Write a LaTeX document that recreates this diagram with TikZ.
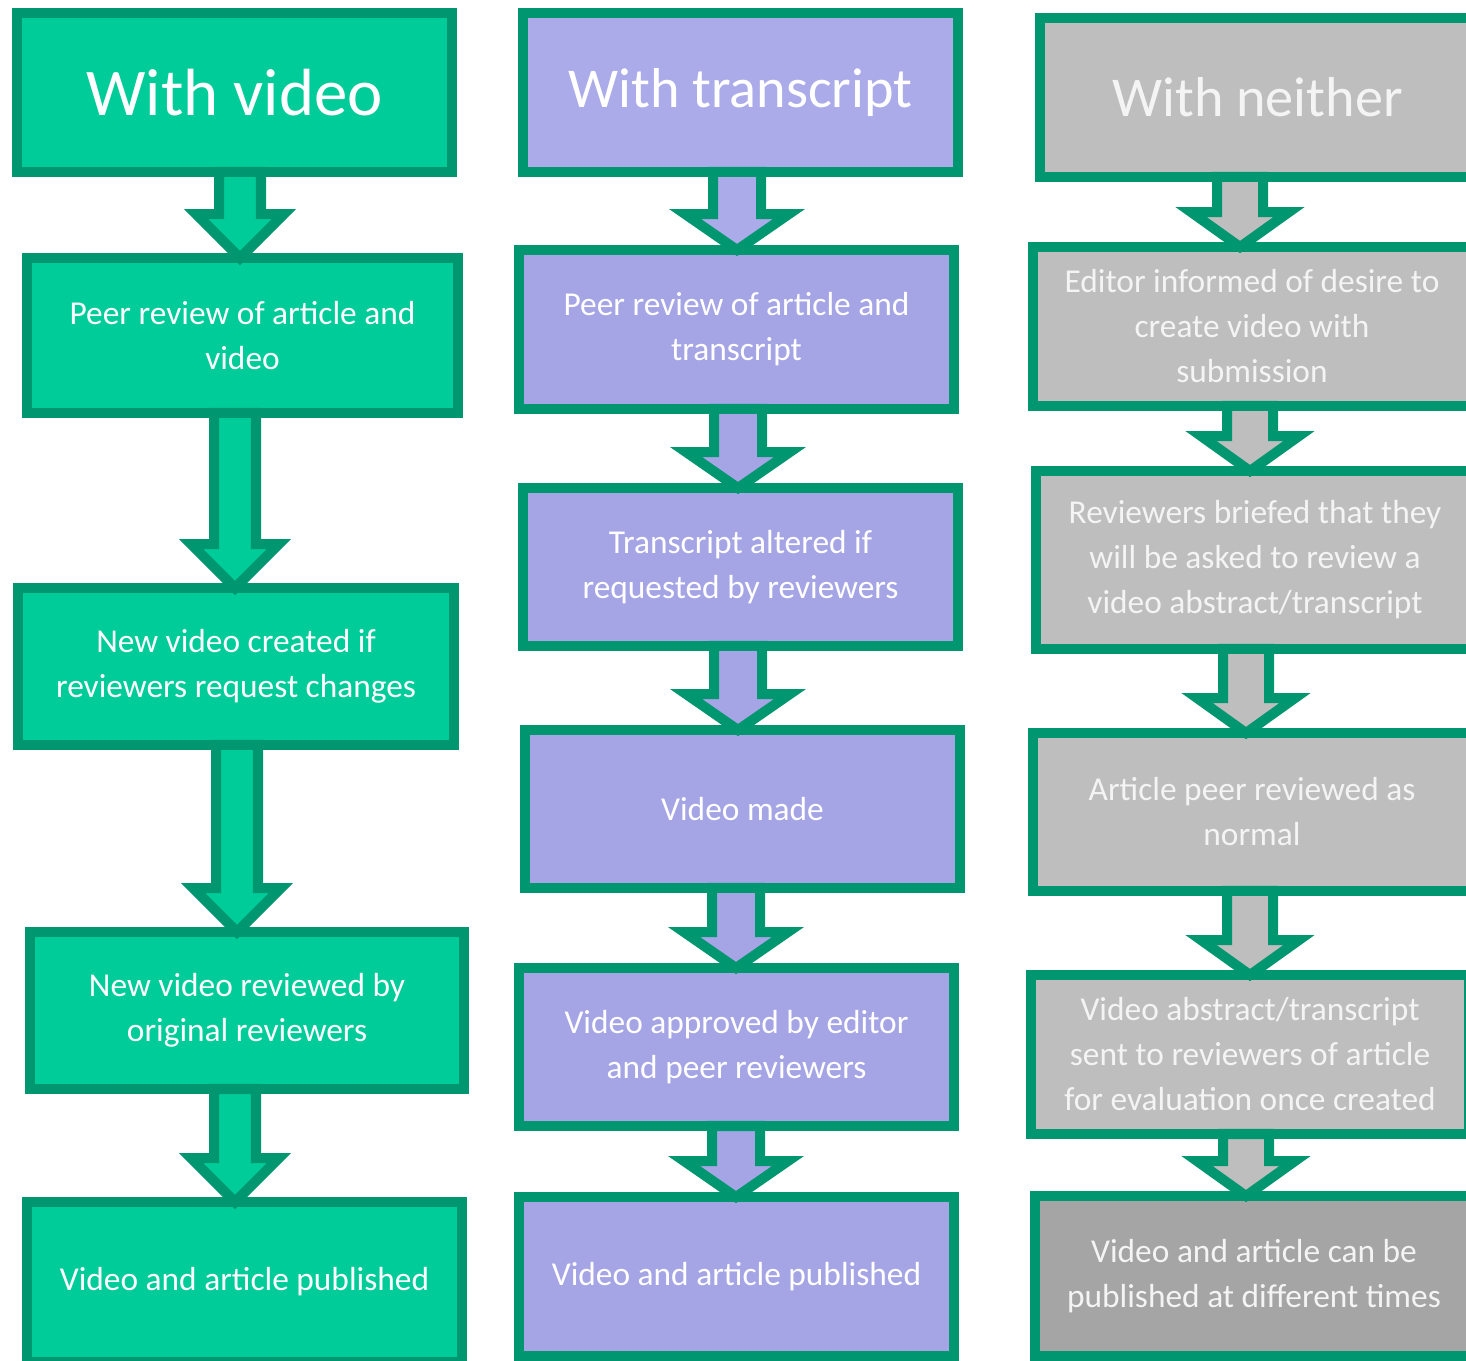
\documentclass[tikz,border=0pt]{standalone}
\usepackage{fontspec}
\setmainfont{Carlito}
\usetikzlibrary{calc}
\definecolor{mint}{HTML}{00CC99}
\definecolor{pine}{HTML}{009670}
\definecolor{lilac}{HTML}{A5A5E6}
\definecolor{lilactop}{HTML}{ABABEA}
\definecolor{stone}{HTML}{BEBEBE}
\definecolor{slate}{HTML}{A5A5A5}
\definecolor{paper}{HTML}{F4F4F4}
% one pixel of the layout grid
\def\pxl{0.569055pt}
% block arrow from the foot of #1 to the head of #2, shifted by #3 px, filled with #4
\newcommand{\flowarrow}[4]{%
  \draw[blockarrow,fill=#4] let \p1=(#1.south), \p2=(#2.north) in
    ({\x2+(#3-\shaftw)*\pxl},\y1) -- ({\x2+(#3-\shaftw)*\pxl},{\y2+\headl*\pxl})
    -- ({\x2+(#3-\headw)*\pxl},{\y2+\headl*\pxl}) -- ({\x2+#3*\pxl},\y2)
    -- ({\x2+(#3+\headw)*\pxl},{\y2+\headl*\pxl}) -- ({\x2+(#3+\shaftw)*\pxl},{\y2+\headl*\pxl})
    -- ({\x2+(#3+\shaftw)*\pxl},\y1) -- cycle;}
\tikzset{
  stage/.style={draw=pine,line width=5.7pt,outer sep=0pt,inner sep=0pt,align=center,text=white,
    font=\fontsize{19}{25.6}\selectfont,minimum width=8.7cm,minimum height=3.18cm},
  head/.style={stage,font=\fontsize{32}{38}\selectfont},
  blockarrow/.style={draw=pine,line width=5.7pt,line join=miter},
}
\begin{document}
\begin{tikzpicture}[x=0.02cm,y=-0.02cm]
  \useasboundingbox (0,0) rectangle (1466,1361);
  \clip (0,0) rectangle (1466,1361);
  % with video
  \node[head,fill=mint,font=\fontsize{38}{44}\selectfont] (v0) at (234.5,92.5) {With video};
  \node[stage,fill=mint,minimum width=8.62cm,minimum height=3.1cm] (v1) at (242.5,335.5) {Peer review of article and\\video};
  \node[stage,fill=mint,minimum width=8.72cm,minimum height=3.14cm] (v2) at (236,666.5) {New video created if\\reviewers request changes};
  \node[stage,fill=mint,minimum width=8.68cm,minimum height=3.14cm] (v3) at (247,1010.5) {New video reviewed by\\original reviewers};
  \node[stage,fill=mint,minimum height=3.2cm] (v4) at (244.5,1282) {Video and article published};
  % with transcript
  \node[head,fill=lilactop] (t0) at (740.5,92.5) {With transcript};
  \node[stage,fill=lilac] (t1) at (736.5,329.5) {Peer review of article and\\transcript};
  \node[stage,fill=lilac,minimum height=3.16cm] (t2) at (740.5,567) {Transcript altered if\\requested by reviewers};
  \node[stage,fill=lilac,minimum height=3.16cm] (t3) at (742.5,809) {Video made};
  \node[stage,fill=lilac,minimum height=3.16cm] (t4) at (736.5,1047) {Video approved by editor\\and peer reviewers};
  \node[stage,fill=lilac] (t5) at (736.5,1276.5) {Video and article published};
  % with neither
  \node[head,fill=stone,text=paper] (n0) at (1257.5,97.5) {With neither};
  \node[stage,fill=stone,text=paper,minimum width=8.76cm] (n1) at (1252,326.5) {Editor informed of desire to\\create video with\\submission};
  \node[stage,fill=stone,text=paper,minimum width=8.76cm,minimum height=3.56cm] (n2) at (1255,560) {Reviewers briefed that they\\will be asked to review a\\video abstract/transcript};
  \node[stage,fill=stone,text=paper,minimum width=8.76cm,minimum height=3.16cm] (n3) at (1252,812) {Article peer reviewed as\\normal};
  \node[stage,fill=stone,text=paper,minimum width=8.76cm] (n4) at (1250,1054.5) {Video abstract/transcript\\sent to reviewers of article\\for evaluation once created};
  \node[stage,fill=slate,text=paper,minimum width=8.76cm,minimum height=3.2cm] (n5) at (1254,1276) {Video and article can be\\published at different times};
  % arrows on top
  \def\shaftw{21}\def\headw{44}\def\headl{44}
  \flowarrow{v0}{v1}{-2.5}{mint}
  \flowarrow{v1}{v2}{-1}{mint}
  \flowarrow{v2}{v3}{-10}{mint}
  \flowarrow{v3}{v4}{-9.5}{mint}
  \def\shaftw{24}\def\headw{52}\def\headl{36}
  \flowarrow{t0}{t1}{0.5}{lilactop}
  \flowarrow{t1}{t2}{-2.5}{lilac}
  \flowarrow{t2}{t3}{-4.5}{lilac}
  \flowarrow{t3}{t4}{-0.5}{lilac}
  \flowarrow{t4}{t5}{-0.5}{lilac}
  \def\shaftw{23}\def\headw{49}\def\headl{35}
  \flowarrow{n0}{n1}{-12}{stone}
  \flowarrow{n1}{n2}{-5}{stone}
  \flowarrow{n2}{n3}{-6}{stone}
  \flowarrow{n3}{n4}{0}{stone}
  \flowarrow{n4}{n5}{-8}{stone}
\end{tikzpicture}
\end{document}
